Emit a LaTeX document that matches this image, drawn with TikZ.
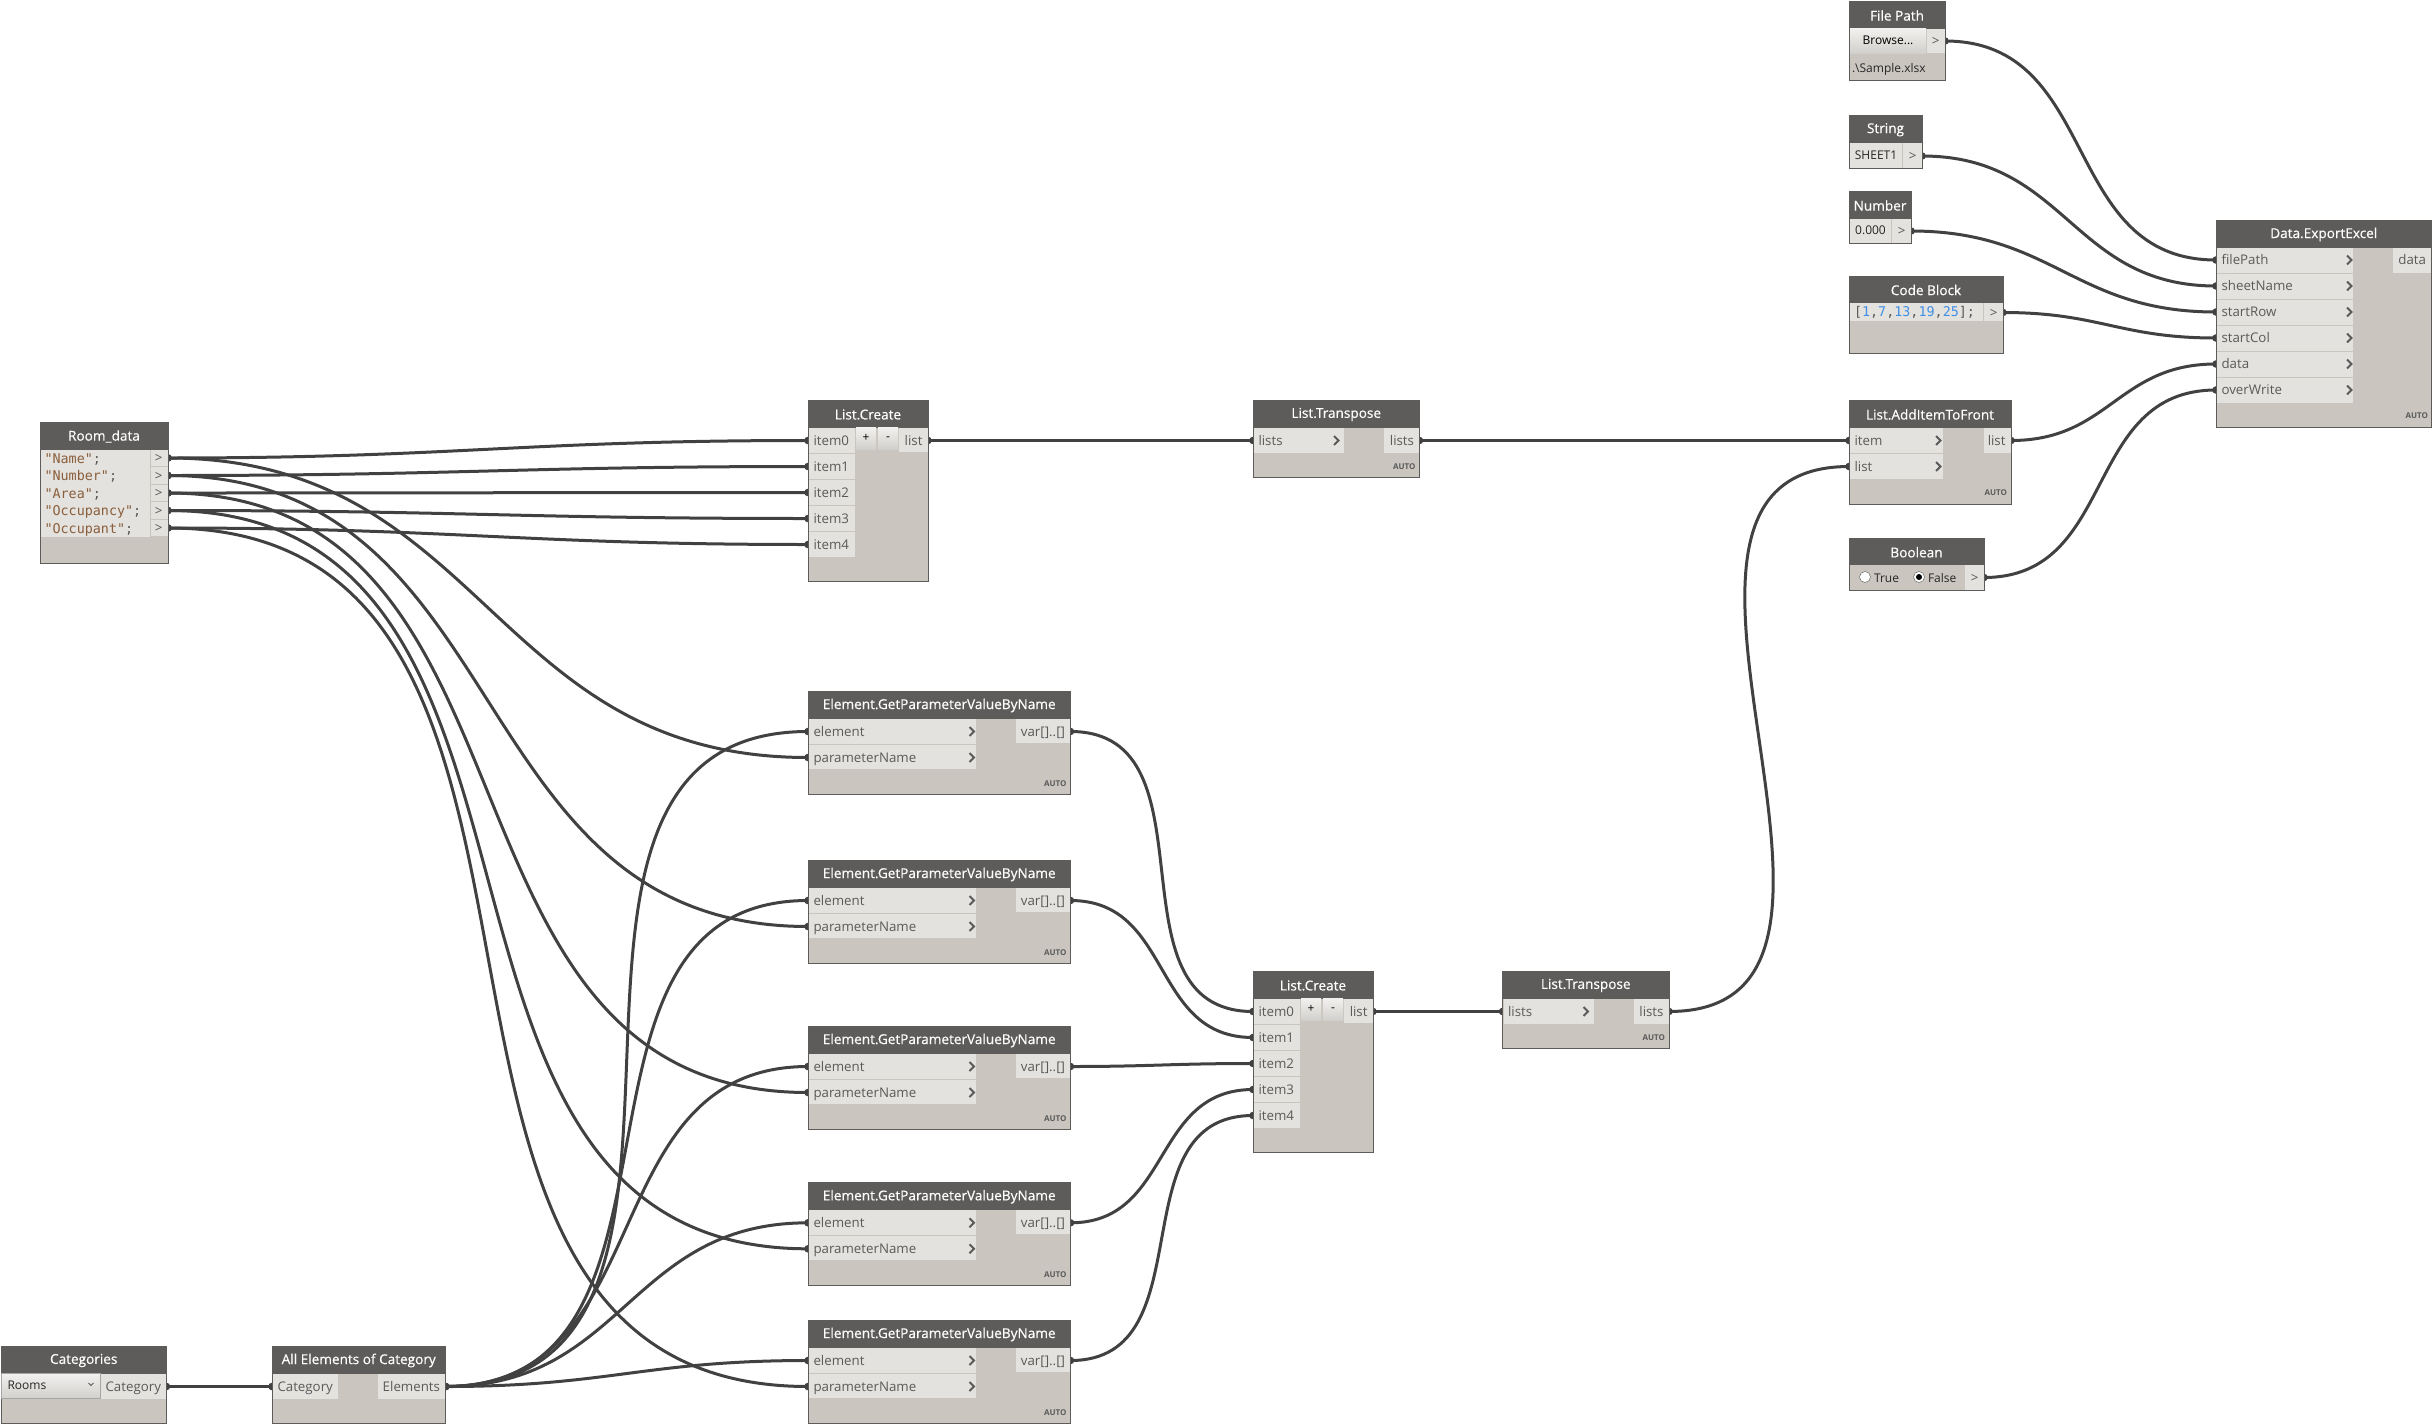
\documentclass[tikz,border=0pt]{standalone}
\usepackage{fontspec}
\setmainfont{Open Sans}
\newfontfamily\titlefam{Open Sans}[FakeBold=0.4]
\newfontfamily\codefam{DejaVu Sans Mono}
\usetikzlibrary{calc, backgrounds}

\definecolor{titlegray}{HTML}{5E5C5A}
\definecolor{bodygray}{HTML}{CAC6BF}
\definecolor{portgray}{HTML}{E4E2DE}
\definecolor{labelgray}{HTML}{5A5A5A}
\definecolor{wiregray}{HTML}{414141}
\definecolor{codebrown}{HTML}{8A5E3C}
\definecolor{codeblue}{HTML}{3F8FE6}

\tikzset{
  body/.style={fill=bodygray, draw=titlegray, line width=1pt},
  titlebar/.style={fill=titlegray, draw=titlegray, line width=1pt, nodes={yshift=-1pt, text=white, font=\titlefam\fontsize{13.6}{16}\selectfont}},
  port/.style={fill=portgray},
  inp/.style={anchor=west, inner xsep=5.5pt, inner ysep=0pt, outer sep=0pt, text height=12.5pt, text depth=3pt, text=labelgray, font=\fontsize{13.3}{16}\selectfont},
  outp/.style={inp, anchor=east},
  plain/.style={inp, text=black!85, font=\fontsize{12}{14}\selectfont},
  fieldtext/.style={text=black!85, font=\fontsize{12}{14}\selectfont},
  chev/.style={draw=labelgray, line width=2pt},
  autotag/.style={anchor=east, inner sep=0pt, outer sep=0pt, text=labelgray, font=\bfseries\fontsize{8}{10}\selectfont},
  btn/.style={top color=portgray!50!white, bottom color=portgray!92!black, nodes={text=black, font=\fontsize{12}{14}\selectfont}},
  wire/.style={draw=wiregray, line width=3pt},
  code/.style={inp, inner xsep=4pt, text height=13pt, font=\codefam\fontsize{13.4}{16}\selectfont},
}

\newcommand{\wire}[2]{%
  \draw[wire] let \p1=(#1), \p2=(#2), \n1={0.45*veclen(\x2-\x1,\y2-\y1)} in
    (\p1) .. controls (\x1+\n1,\y1) and (\x2-\n1,\y2) .. (\p2);
  \fill[wiregray] (#1) circle (3.8pt);
  \fill[wiregray] (#2) circle (3.8pt);
}

\begin{document}
\begin{tikzpicture}[x=1pt, y=-1pt]

\useasboundingbox (0,0) rectangle (2432,1424);

\draw[body] (1849,1) rectangle (1945,80);
\draw[titlebar] (1849,1) rectangle (1945,28) node[pos=0.5] (fpT) {File Path};
\shade[btn] (1850,28.5) rectangle (1926,53) node[pos=0.5] (fpBrowse) {Browse...};
\fill[port] (1927,28.5) rectangle (1944.5,53);
\node[outp] (fpOut) at (1945,41) {>};
\node[plain, inner xsep=2pt] (fpFile) at (1850,68) {.\textbackslash Sample.xlsx};

\draw[body] (1849,115.5) rectangle (1922,168);
\draw[titlebar] (1849,115.5) rectangle (1922,142) node[pos=0.5] (stT) {String};
\fill[port] (1850,142.5) rectangle (1902,167.5) node[pos=0.5, fieldtext] (stVal) {SHEET1};
\fill[port] (1903,142.5) rectangle (1921.5,167.5);
\node[outp] (stOut) at (1922,156) {>};

\draw[body] (1849,191) rectangle (1911,243);
\draw[titlebar] (1849,191) rectangle (1911,218) node[pos=0.5] (nmT) {Number};
\fill[port] (1850,218.5) rectangle (1891,242.5) node[pos=0.5, fieldtext] (nmVal) {0.000};
\fill[port] (1892,218.5) rectangle (1910.5,242.5);
\node[outp] (nmOut) at (1911,231) {>};

\draw[body] (1849,276) rectangle (2003,353.5);
\draw[titlebar] (1849,276) rectangle (2003,302) node[pos=0.5] (cbT) {Code Block};
\fill[port] (1850,302.5) rectangle (1983,321);
\fill[port] (1984,302.5) rectangle (2002.5,321);
\node[code, text=labelgray] (cbCode) at (1850,311.5) {[\textcolor{codeblue}{1},\textcolor{codeblue}{7},\textcolor{codeblue}{13},\textcolor{codeblue}{19},\textcolor{codeblue}{25}];};
\node[outp] (cbOut) at (2003,312.5) {>};

\draw[body] (1849,400) rectangle (2011,504);
\draw[titlebar] (1849,400) rectangle (2011,427) node[pos=0.5] (afT) {List.AddItemToFront};
\fill[port] (1850,427.5) rectangle (1942.5,452.5);
\fill[port] (1850,453.5) rectangle (1942.5,478.5);
\fill[port] (1983.5,427.5) rectangle (2010.5,452.5);
\node[inp] (afItem) at (1849,440.5) {item};
\node[inp] (afList) at (1849,466.5) {list};
\node[outp] (afOut) at (2011,440.5) {list};
\draw[chev] (1936,436) -- ++(4.5,4.5) -- ++(-4.5,4.5);
\draw[chev] (1936,462) -- ++(4.5,4.5) -- ++(-4.5,4.5);
\node[autotag] (afAuto) at (2007,492.5) {AUTO};

\draw[body] (1849,538) rectangle (1984,590);
\draw[titlebar] (1849,538) rectangle (1984,564.5) node[pos=0.5] (boT) {Boolean};
\fill[port] (1965,565) rectangle (1983.5,589.5);
\node[outp] (boOut) at (1984,577.5) {>};
\draw[fill=white, draw=labelgray] (1865,577) circle (5.5pt);
\draw[fill=white, draw=labelgray] (1919,577) circle (5.5pt);
\fill[black] (1919,577) circle (3pt);
\node[plain, inner xsep=0pt] (boTrue) at (1874,578) {True};
\node[plain, inner xsep=0pt] (boFalse) at (1928,578) {False};

\draw[body] (2216,220) rectangle (2431.5,427.5);
\draw[titlebar] (2216,220) rectangle (2431.5,247) node[pos=0.5] (deT) {Data.ExportExcel};
\foreach \lbl [count=\i from 0] in {filePath,sheetName,startRow,startCol,data,overWrite} {
  \fill[port] (2217,247.5+26*\i) rectangle (2353,272.5+26*\i);
  \node[inp] (de-\lbl) at (2216,260+26*\i) {\lbl};
  \draw[chev] (2347,255.5+26*\i) -- ++(4.5,4.5) -- ++(-4.5,4.5);
}
\fill[port] (2393,247.5) rectangle (2431,272.5);
\node[outp] (deOut) at (2431.5,260) {data};
\node[autotag] (deAuto) at (2428,416) {AUTO};

\draw[body] (40,422) rectangle (168,563);
\draw[titlebar] (40,422) rectangle (168,449) node[pos=0.5] (rdT) {Room\_data};
\fill[port] (40.5,449.5) rectangle (149.5,537);
\foreach \lbl/\py [count=\i from 0] in {Name/458,Number/475.5,Area/493,Occupancy/510.5,Occupant/528} {
  \fill[port] (150.5,\py-8.5) rectangle (167.5,\py+8);
  \node[code, text=labelgray] (rd-\lbl) at (40.5,\py) {\textcolor{codebrown}{"\lbl"};};
  \node[outp] (rd\i) at (168,\py) {>};
}

\foreach \k/\px/\py in {1/808/400, 2/1253/971} {
  \draw[body] (\px,\py) rectangle (\px+120,\py+181.5);
  \draw[titlebar] (\px,\py) rectangle (\px+120,\py+27) node[pos=0.5] (lc\k-T) {List.Create};
  \foreach \i in {0,...,4} {
    \fill[port] (\px+1,\py+27.5+26*\i) rectangle (\px+47,\py+52.5+26*\i);
    \node[inp] (lc\k-i\i) at (\px,\py+40.5+26*\i) {item\i};
  }
  \shade[btn] (\px+48,\py+27.5) rectangle (\px+68,\py+49) node[pos=0.5] (lc\k-plus) {+};
  \shade[btn] (\px+70,\py+27.5) rectangle (\px+90,\py+49) node[pos=0.5] (lc\k-minus) {-};
  \fill[port] (\px+91,\py+27.5) rectangle (\px+119.5,\py+52);
  \node[outp] (lc\k-out) at (\px+120,\py+40.5) {list};
}

\foreach \k/\px/\py in {1/1253/400, 2/1502.5/971} {
  \draw[body] (\px,\py) rectangle (\px+166.5,\py+77.5);
  \draw[titlebar] (\px,\py) rectangle (\px+166.5,\py+27) node[pos=0.5] (lt\k-T) {List.Transpose};
  \fill[port] (\px+1,\py+27.5) rectangle (\px+91,\py+52.5);
  \fill[port] (\px+131,\py+27.5) rectangle (\px+166,\py+52.5);
  \node[inp] (lt\k-in) at (\px,\py+40.5) {lists};
  \node[outp] (lt\k-out) at (\px+166.5,\py+40.5) {lists};
  \draw[chev] (\px+81,\py+36) -- ++(4.5,4.5) -- ++(-4.5,4.5);
  \node[autotag] (lt\k-auto) at (\px+162.5,\py+66.5) {AUTO};
}

\foreach \k/\py in {1/691, 2/860, 3/1026, 4/1182.3, 5/1320} {
  \draw[body] (808,\py) rectangle (1070.5,\py+103);
  \draw[titlebar] (808,\py) rectangle (1070.5,\py+27) node[pos=0.5] (gp\k-T) {Element.GetParameterValueByName};
  \fill[port] (809,\py+27.5) rectangle (976,\py+52.5);
  \fill[port] (809,\py+53.5) rectangle (976,\py+78);
  \fill[port] (1016,\py+27.5) rectangle (1070,\py+52);
  \node[inp] (gp\k-el) at (808,\py+40.5) {element};
  \node[inp] (gp\k-pn) at (808,\py+66.5) {parameterName};
  \node[outp] (gp\k-out) at (1070.5,\py+40.5) {var[]..[]};
  \draw[chev] (969.5,\py+36) -- ++(4.5,4.5) -- ++(-4.5,4.5);
  \draw[chev] (969.5,\py+62) -- ++(4.5,4.5) -- ++(-4.5,4.5);
  \node[autotag] (gp\k-auto) at (1066.5,\py+92.5) {AUTO};
}

\draw[body] (1,1346) rectangle (166.5,1423.5);
\draw[titlebar] (1,1346) rectangle (166.5,1373) node[pos=0.5] (caT) {Categories};
\shade[btn, draw=black!35] (1.5,1373.5) rectangle (100.5,1398.5);
\node[plain, inner xsep=6pt] (caRooms) at (1.5,1385) {Rooms};
\draw[labelgray, line width=1pt] (88.5,1383) -- ++(2.5,2.5) -- ++(2.5,-2.5);
\fill[port] (101,1373.5) rectangle (166,1398.5);
\node[outp] (caOut) at (166.5,1386.5) {Category};

\draw[body] (272,1346) rectangle (445.5,1423.5);
\draw[titlebar] (272,1346) rectangle (445.5,1373) node[pos=0.5] (aeT) {All Elements of Category};
\fill[port] (273,1373.5) rectangle (338,1398.5);
\fill[port] (378,1373.5) rectangle (445,1398.5);
\node[inp] (aeIn) at (272,1386.5) {Category};
\node[outp] (aeOut) at (445.5,1386.5) {Elements};

\begin{scope}[on background layer]
  \foreach \i in {0,...,4} {
    \wire{rd\i.east}{lc1-i\i.west}
  }
  \foreach \i [evaluate=\i as \k using int(\i+1)] in {0,...,4} {
    \wire{rd\i.east}{gp\k-pn.west}
    \wire{aeOut.east}{gp\k-el.west}
    \wire{gp\k-out.east}{lc2-i\i.west}
  }
  \wire{caOut.east}{aeIn.west}
  \wire{lc1-out.east}{lt1-in.west}
  \wire{lc2-out.east}{lt2-in.west}
  \wire{lt1-out.east}{afItem.west}
  \wire{lt2-out.east}{afList.west}
  \wire{fpOut.east}{de-filePath.west}
  \wire{stOut.east}{de-sheetName.west}
  \wire{nmOut.east}{de-startRow.west}
  \wire{cbOut.east}{de-startCol.west}
  \wire{afOut.east}{de-data.west}
  \wire{boOut.east}{de-overWrite.west}
\end{scope}

\end{tikzpicture}
\end{document}
